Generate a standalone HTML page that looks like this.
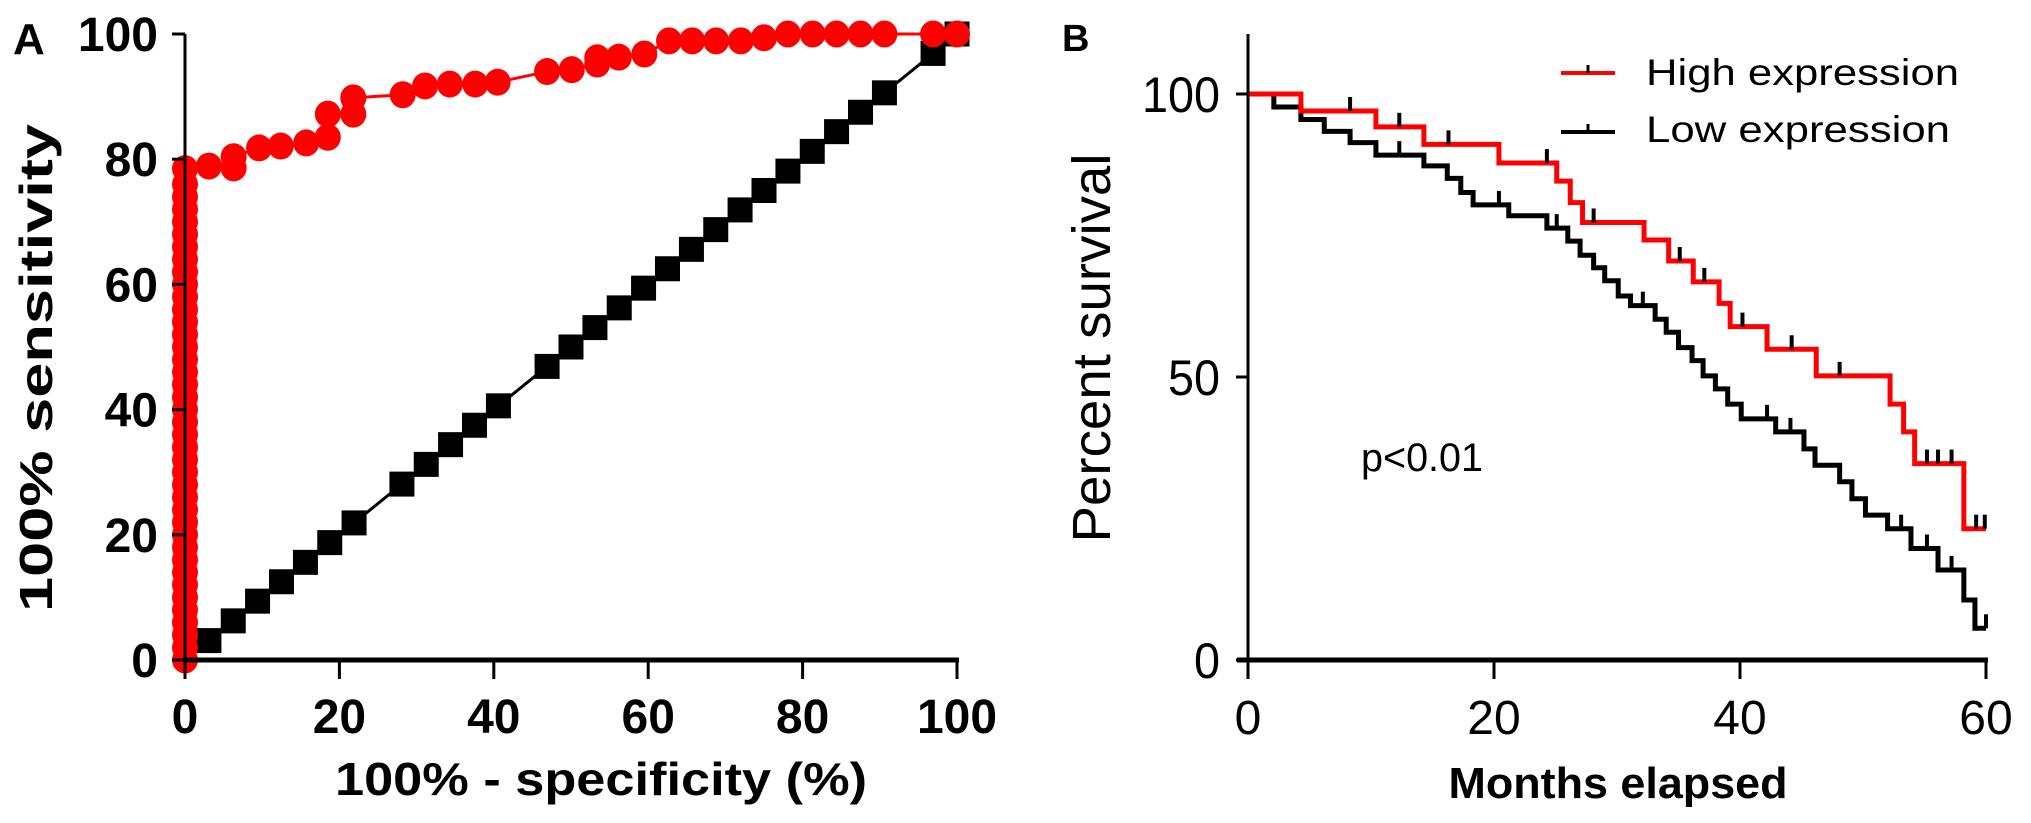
<!DOCTYPE html>
<html><head><meta charset="utf-8"><style>
html,body{margin:0;padding:0;background:#fff;}
svg{display:block;font-family:"Liberation Sans",Arial,sans-serif;}
</style></head><body>
<svg id="chart" width="2031" height="823" viewBox="0 0 2031 823">
<g id="panelA"></g>
<g id="panelB"></g>
</svg>
<script>
// ---------- Panel A data (ROC) ----------
const rocTicks = [0, 20, 40, 60, 80, 100];
const rocRedX = [0,0,0,0,0,0,0,0,0,0,0,0,0,0,0,0,0,0,0,0,0,0,0,0,0,0,0,0,0,0,0,0,0,0,0,0,0,0,0,0,
  3.1, 6.3, 6.3, 9.6, 12.4, 15.7, 18.5, 18.5, 21.8, 21.8, 28.2, 31.1, 34.3, 37.6, 40.5, 46.9, 50.1, 53.4, 53.4, 56.2, 59.5, 62.7, 65.7, 68.8, 72, 75, 78.1, 81.3, 84.4, 87.5, 90.6, 96.9, 100];
const rocRedY = [0,2,4,6,8,10,12,14,16,18,20,22,24,26,28,30,32,34,36,38,40,42,44,46,48,50,52,54,56,58,60,62,64,66,68,70,72,74,76,78.5,
  78.9, 78.6, 80.4, 81.8, 82.1, 82.6, 83.5, 87.2, 87.2, 89.8, 90.3, 91.7, 92, 92, 92.3, 94, 94.3, 95.2, 96.2, 96.3, 96.8, 98.9, 98.9, 98.9, 98.9, 99.4, 100, 100, 100, 100, 100, 100, 100];
const rocBlackX = [0, 3.1, 6.25, 9.4, 12.5, 15.6, 18.75, 21.9, 28.1, 31.25, 34.4, 37.5, 40.6, 46.9, 50, 53.1, 56.25, 59.4, 62.5, 65.6, 68.75, 71.9, 75, 78.1, 81.25, 84.4, 87.5, 90.6, 96.9, 100];
const rocBlackY = [0, 3.1, 6.25, 9.4, 12.5, 15.6, 18.75, 21.9, 28.1, 31.25, 34.4, 37.5, 40.6, 46.9, 50, 53.1, 56.25, 59.4, 62.5, 65.6, 68.75, 71.9, 75, 78.1, 81.25, 84.4, 87.5, 90.6, 96.9, 100];

// ---------- Panel B data (Kaplan-Meier) ----------
const kmXTicks = [0, 20, 40, 60];
const kmYTicks = [0, 50, 100];
const highT = [0, 4.3, 10.4, 14.3, 20.4, 25.1, 26.2, 27.2, 32.2, 34.2, 36.2, 38.3, 39.2, 42.2, 46.2, 52.2, 53.3, 54.2, 58.2];
const highS = [100, 97, 94.2, 91.1, 87.8, 84.6, 80.8, 77.3, 74.2, 70.5, 66.8, 63.0, 58.9, 54.9, 50.2, 45.2, 40.3, 34.7, 23.2];
const highEnd = 60;
const highCensor = [8.3, 12.3, 16.3, 24.3, 28.1, 35.1, 37.1, 40.2, 44.2, 48.1, 55.2, 56.1, 57.2, 59.2, 59.9];
const lowT = [0, 2.1, 4.3, 6.2, 8.3, 10.4, 14.3, 16.2, 17.3, 18.3, 21.2, 24.3, 26.0, 27.0, 28.1, 29.0, 30.1, 31.1, 33.1, 34.0, 35.0, 36.1, 37.0, 38.0, 39.0, 40.1, 42.9, 45.2, 46.1, 48.1, 49.1, 50.2, 52.0, 53.9, 56.1, 58.2, 59.1];
const lowS = [100, 97.7, 95.5, 93.4, 91.4, 89.2, 87.3, 85.1, 82.6, 80.4, 78.5, 76.3, 74.0, 71.5, 69.3, 67.0, 64.3, 62.6, 60.2, 57.9, 55.2, 52.9, 50.2, 47.9, 45.2, 42.6, 40.3, 37.3, 34.4, 31.5, 28.5, 25.6, 23.2, 19.7, 15.9, 10.6, 5.6];
const lowEnd = 60;
const lowCensor = [12.3, 20.4, 25.1, 32.1, 42.2, 44.1, 53.1, 55.2, 57.2, 60];

const NS = "http://www.w3.org/2000/svg";
function mk(parent, tag, attrs, text) {
  const e = document.createElementNS(NS, tag);
  for (const k in attrs) e.setAttribute(k, attrs[k]);
  if (text !== undefined) e.textContent = text;
  parent.appendChild(e);
  return e;
}

// ---------- Panel A ----------
const A = document.getElementById('panelA');
const ax = v => 185 + v * 7.72;
const ay = v => 660 - v * 6.26;

let t = mk(A, 'text', {x: 13, y: 54, 'font-size': 44, 'font-weight': 'bold'}, 'A');



let pts = rocBlackX.map((v, i) => ax(v) + ',' + ay(rocBlackY[i])).join(' ');
let pl = mk(A, 'polyline', {points: pts, fill: 'none', stroke: '#000', 'stroke-width': 3});


rocBlackX.forEach((v, i) => {
  if (i === 0) return;
  const r = mk(A, 'rect', {x: ax(v) - 12.5, y: ay(rocBlackY[i]) - 12.5, width: 25, height: 25, fill: '#000'});
  
  
});

pts = rocRedX.map((v, i) => ax(v) + ',' + ay(rocRedY[i])).join(' ');
pl = mk(A, 'polyline', {points: pts, fill: 'none', stroke: '#f00', 'stroke-width': 3});


rocRedX.forEach((v, i) => {
  const c = mk(A, 'ellipse', {cx: ax(v), cy: ay(rocRedY[i]), rx: 13, ry: 13.5, fill: '#f00'});
  
  
});

let l = mk(A, 'line', {x1: 185, y1: 34, x2: 185, y2: 662, stroke: '#000', 'stroke-width': 3});


l = mk(A, 'line', {x1: 183, y1: 660, x2: 959, y2: 660, stroke: '#000', 'stroke-width': 5});


rocTicks.forEach(v => {
  let k = mk(A, 'line', {x1: 172, y1: ay(v), x2: 185, y2: ay(v), stroke: '#000', 'stroke-width': 3});
  
  
  let tx = mk(A, 'text', {x: 158, y: ay(v) + 17, 'font-size': 48, 'font-weight': 'bold', 'text-anchor': 'end'}, String(v));
  
  
  k = mk(A, 'line', {x1: ax(v), y1: 660, x2: ax(v), y2: 679, stroke: '#000', 'stroke-width': 3});
  
  
  tx = mk(A, 'text', {x: ax(v), y: 733, 'font-size': 48, 'font-weight': 'bold', 'text-anchor': 'middle'}, String(v));
  
  
});
t = mk(A, 'text', {x: 335, y: 795, 'font-size': 46, 'font-weight': 'bold', textLength: 532, lengthAdjust: 'spacingAndGlyphs'}, '100% - specificity (%)');


t = mk(A, 'text', {x: 0, y: 0, 'font-size': 46, 'font-weight': 'bold', 'text-anchor': 'middle', textLength: 488, lengthAdjust: 'spacingAndGlyphs', transform: 'translate(52,368) rotate(-90)'}, '100% sensitivity');



// ---------- Panel B ----------
const B = document.getElementById('panelB');
const bx = v => 1248 + v * 12.3;
const by = v => 660 - v * 5.66;

t = mk(B, 'text', {x: 1062, y: 51, 'font-size': 38, 'font-weight': 'bold'}, 'B');



function stepPath(T, S, end) {
  let d = 'M' + bx(T[0]) + ' ' + by(S[0]);
  for (let i = 1; i < T.length; i++) {
    d += ' H' + bx(T[i]) + ' V' + by(S[i]);
  }
  d += ' H' + bx(end);
  return d;
}
function valueAt(T, S, x) {
  let s = S[0];
  for (let i = 0; i < T.length; i++) if (T[i] <= x) s = S[i];
  return s;
}

let p = mk(B, 'path', {d: stepPath(lowT, lowS, lowEnd), fill: 'none', stroke: '#000', 'stroke-width': 5});


lowCensor.forEach(c => {
  const yy = by(valueAt(lowT, lowS, c));
  const k = mk(B, 'line', {x1: bx(c), y1: yy, x2: bx(c), y2: yy - 14, stroke: '#000', 'stroke-width': 4});
  
  
});
p = mk(B, 'path', {d: stepPath(highT, highS, highEnd), fill: 'none', stroke: '#f00', 'stroke-width': 5});


highCensor.forEach(c => {
  const yy = by(valueAt(highT, highS, c));
  const k = mk(B, 'line', {x1: bx(c), y1: yy, x2: bx(c), y2: yy - 14, stroke: '#000', 'stroke-width': 4});
  
  
});

l = mk(B, 'line', {x1: 1248, y1: 34, x2: 1248, y2: 662, stroke: '#000', 'stroke-width': 3});


l = mk(B, 'line', {x1: 1237, y1: 660, x2: 1988, y2: 660, stroke: '#000', 'stroke-width': 5});


kmYTicks.forEach(v => {
  const k = mk(B, 'line', {x1: 1236, y1: by(v), x2: 1248, y2: by(v), stroke: '#000', 'stroke-width': 3});
  
  
  const tx = mk(B, 'text', {x: 1220, y: by(v) + 18, 'font-size': 50, 'text-anchor': 'end', textLength: 26 * String(v).length, lengthAdjust: 'spacingAndGlyphs'}, String(v));
  
  
});
kmXTicks.forEach(v => {
  const k = mk(B, 'line', {x1: bx(v), y1: 660, x2: bx(v), y2: 679, stroke: '#000', 'stroke-width': 3});
  
  
  const tx = mk(B, 'text', {x: bx(v), y: 734, 'font-size': 48, 'text-anchor': 'middle'}, String(v));
  
  
});
t = mk(B, 'text', {x: 1618, y: 798, 'font-size': 44, 'font-weight': 'bold', 'text-anchor': 'middle', textLength: 339, lengthAdjust: 'spacingAndGlyphs'}, 'Months elapsed');


t = mk(B, 'text', {x: 0, y: 0, 'font-size': 54, 'text-anchor': 'middle', textLength: 389, lengthAdjust: 'spacingAndGlyphs', transform: 'translate(1110,348) rotate(-90)'}, 'Percent survival');


t = mk(B, 'text', {x: 1361, y: 471, 'font-size': 40, textLength: 122, lengthAdjust: 'spacingAndGlyphs'}, 'p<0.01');



const leg = mk(B, 'g', {});


let ll = mk(leg, 'line', {x1: 1561, y1: 73, x2: 1615, y2: 73, stroke: '#f00', 'stroke-width': 4});


ll = mk(leg, 'line', {x1: 1588, y1: 73, x2: 1588, y2: 65, stroke: '#000', 'stroke-width': 3});


t = mk(leg, 'text', {x: 1646, y: 85, 'font-size': 37, textLength: 313, lengthAdjust: 'spacingAndGlyphs'}, 'High expression');


ll = mk(leg, 'line', {x1: 1561, y1: 132, x2: 1615, y2: 132, stroke: '#000', 'stroke-width': 4});


ll = mk(leg, 'line', {x1: 1588, y1: 132, x2: 1588, y2: 124, stroke: '#000', 'stroke-width': 3});


t = mk(leg, 'text', {x: 1646, y: 142, 'font-size': 37, textLength: 304, lengthAdjust: 'spacingAndGlyphs'}, 'Low expression');


</script>
</body></html>
